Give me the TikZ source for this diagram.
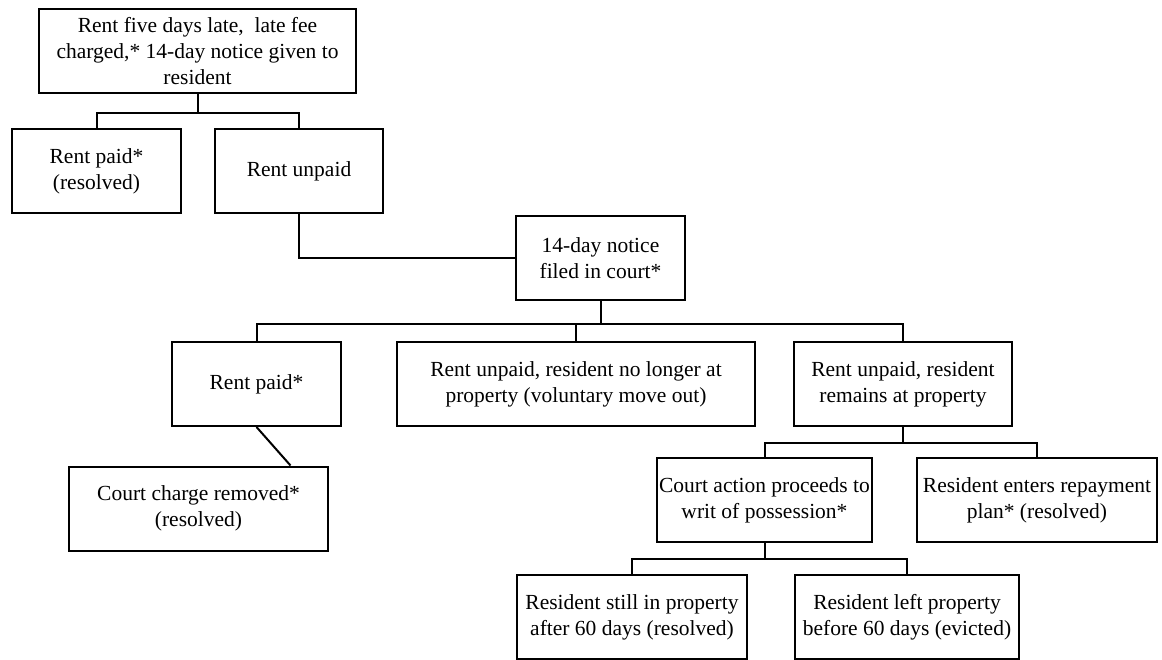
\documentclass[tikz,border=0pt]{standalone}
\usepackage{fontspec}
\setmainfont{Liberation Serif}
\usetikzlibrary{positioning}

\begin{document}
\begin{tikzpicture}[
    x=1pt, y=-1pt,
    box/.style={rectangle, draw, line width=2pt, minimum height=84pt, inner sep=0pt, align=center, font=\fontsize{21.5}{26}\selectfont},
    link/.style={line width=2pt}
]
\useasboundingbox (0,0) rectangle (1162,660);

% First notice
\node[box, minimum width=317pt] (rentlate) at (197.5,51) {Rent five days late,\ \ late fee\\charged,* 14-day notice given to\\resident};

% First outcome
\node[box, minimum width=169pt] (paidfirst) at (96.5,171) {Rent paid*\\(resolved)};
\node[box, minimum width=168pt] (unpaidfirst) at (299,171) {Rent unpaid};

% Court filing
\node[box, minimum width=169pt] (filed) at (600.5,258.5) {14-day notice\\filed in court*};

% After filing
\node[box, minimum width=169pt] (paidcourt) at (256.5,384) {Rent paid*};
\node[box, minimum width=358pt] (moveout) at (576,384) {Rent unpaid, resident no longer at\\property (voluntary move out)};
\node[box, minimum width=218pt] (remains) at (903,384) {Rent unpaid, resident\\remains at property};

\node[box, minimum width=259pt] (chargeremoved) at (198.5,508.5) {Court charge removed*\\(resolved)};
\node[box, minimum width=215pt] (writ) at (764.5,500) {Court action proceeds to\\writ of possession*};
\node[box, minimum width=240pt] (repayment) at (1037,500) {Resident enters repayment\\plan* (resolved)};

% Writ outcome
\node[box, minimum width=230pt] (stillin) at (632,617) {Resident still in property\\after 60 days (resolved)};
\node[box, minimum width=224pt] (leftprop) at (907,617) {Resident left property\\before 60 days (evicted)};

% Connectors
\draw[link] (rentlate.south) -- ++(0,19) -| (paidfirst.north);
\draw[link] (rentlate.south) -- ++(0,19) -| (unpaidfirst.north);
\draw[link] (unpaidfirst.south) |- (filed.west);

\draw[link] (filed.south) -- ++(0,23) -| (paidcourt.north);
\draw[link] (filed.south) -- ++(0,23) -| (moveout.north);
\draw[link] (filed.south) -- ++(0,23) -| (remains.north);
\draw[link] (paidcourt.south) -- ([xshift=92pt]chargeremoved.north);

\draw[link] (remains.south) -- ++(0,16) -| (writ.north);
\draw[link] (remains.south) -- ++(0,16) -| (repayment.north);
\draw[link] (writ.south) -- ++(0,16) -| (stillin.north);
\draw[link] (writ.south) -- ++(0,16) -| (leftprop.north);

\end{tikzpicture}
\end{document}
